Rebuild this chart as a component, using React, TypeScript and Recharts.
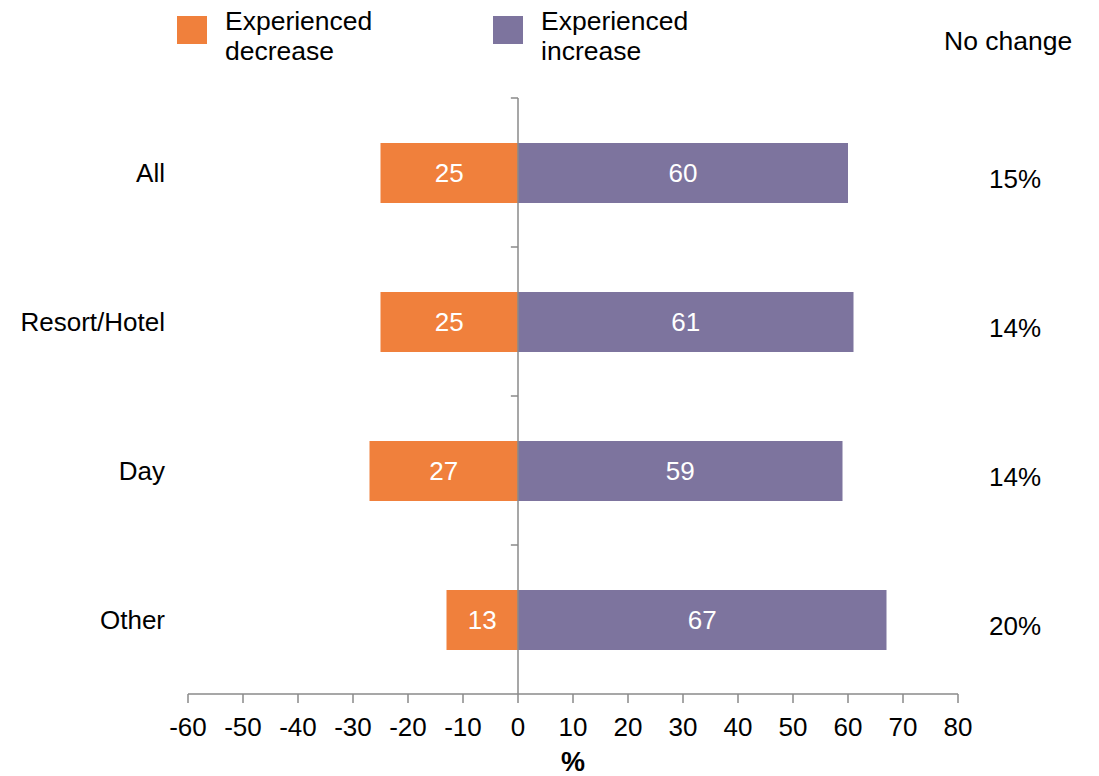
import React from 'react';
import { BarChart, Bar, XAxis, YAxis, ReferenceLine, LabelList, Legend } from 'recharts';

const categories = ['All', 'Resort/Hotel', 'Day', 'Other'];
const decreaseValues = [-25, -25, -27, -13];
const increaseValues = [60, 61, 59, 67];
const noChangeLabels = ['15%', '14%', '14%', '20%'];
const xTicks = [-60, -50, -40, -30, -20, -10, 0, 10, 20, 30, 40, 50, 60, 70, 80];
const seriesNames = ['Experienced decrease', 'Experienced increase'];
const noChangeTitle = 'No change';

const data = categories.map((c, i) => ({
  category: c,
  decrease: decreaseValues[i],
  increase: increaseValues[i],
}));

const FONT = "'Liberation Sans', Arial, Helvetica, sans-serif";
const ORANGE = '#F0803C';
const PURPLE = '#7D749E';
const AXIS = '#8A8A8A';
const legendLefts = [177, 493];

const CategoryTick = (props: any) => {
  const { x, y, payload } = props;
  return (
    <text x={x} y={y} dy="0.355em" textAnchor="end" fontSize={26} fill="#000" fontFamily={FONT}>
      {payload.value}
    </text>
  );
};

const NoChangeTick = (props: any) => {
  const { x, y, index } = props;
  return (
    <text x={x} y={y} dy="0.355em" transform="translate(0,6)" textAnchor="middle" fontSize={26} fill="#000" fontFamily={FONT}>
      {noChangeLabels[index]}
    </text>
  );
};

const renderLegend = (props: any) => {
  const payload = props.payload || [];
  return (
    <div style={{ position: 'relative', width: 1099, height: 98, fontFamily: FONT, fontSize: 26.5, color: '#000', lineHeight: '30px' }}>
      {payload.map((item: any, i: number) => (
        <div key={i}>
          <div style={{ position: 'absolute', left: legendLefts[i], top: 16, width: 30, height: 28, background: item.color }} />
          <div style={{ position: 'absolute', left: legendLefts[i] + 48, top: 6, width: 165 }}>{item.value}</div>
        </div>
      ))}
      <div style={{ position: 'absolute', left: 944, top: 26, whiteSpace: 'nowrap' }}>{noChangeTitle}</div>
    </div>
  );
};

export default function App() {
  return (
    <div style={{ position: 'fixed', left: 0, top: 0, width: 1099, height: 776, background: '#fff', fontFamily: FONT }}>
      <BarChart
        width={1099}
        height={776}
        data={data}
        layout="vertical"
        stackOffset="sign"
        margin={{ top: 0, right: 0, bottom: 0, left: 0 }}
      >
        <Legend verticalAlign="top" align="left" wrapperStyle={{ left: 0, top: 0, width: 1099 }} content={renderLegend} />
        <XAxis
          type="number"
          domain={[-60, 80]}
          ticks={xTicks}
          interval={0}
          height={82}
          axisLine={{ stroke: AXIS, strokeWidth: 1.5 }}
          tickLine={{ stroke: AXIS, strokeWidth: 1.5 }}
          tickSize={9}
          tickMargin={15}
          tick={{ fill: '#000', fontSize: 26, fontFamily: FONT }}
          label={{ value: '%', position: 'insideBottom', offset: 5, fill: '#000', fontSize: 27, fontWeight: 'bold', fontFamily: FONT }}
        />
        <YAxis
          yAxisId="cat"
          type="category"
          dataKey="category"
          width={188}
          axisLine={false}
          tickLine={false}
          tickSize={0}
          tickMargin={23}
          tick={<CategoryTick />}
        />
        <YAxis
          yAxisId="right"
          orientation="right"
          type="category"
          dataKey="category"
          width={141}
          axisLine={false}
          tickLine={false}
          tickSize={0}
          tickMargin={57}
          tick={<NoChangeTick />}
        />
        <Bar yAxisId="cat" dataKey="decrease" name={seriesNames[0]} stackId="a" fill={ORANGE} barSize={60} isAnimationActive={false}>
          <LabelList dataKey="decrease" position="center" fill="#fff" fontSize={26} fontFamily={FONT} formatter={(v: any) => Math.abs(Number(v))} />
        </Bar>
        <Bar yAxisId="cat" dataKey="increase" name={seriesNames[1]} stackId="a" fill={PURPLE} barSize={60} isAnimationActive={false}>
          <LabelList dataKey="increase" position="center" fill="#fff" fontSize={26} fontFamily={FONT} formatter={(v: any) => Math.abs(Number(v))} />
        </Bar>
        <ReferenceLine yAxisId="cat" x={0} stroke={AXIS} strokeWidth={1.5} />
        {categories.map((c) => (
          <ReferenceLine
            key={c}
            yAxisId="cat"
            position="start"
            segment={[{ x: -1.3, y: c }, { x: 0, y: c }]}
            stroke={AXIS}
            strokeWidth={1.5}
          />
        ))}
      </BarChart>
    </div>
  );
}
